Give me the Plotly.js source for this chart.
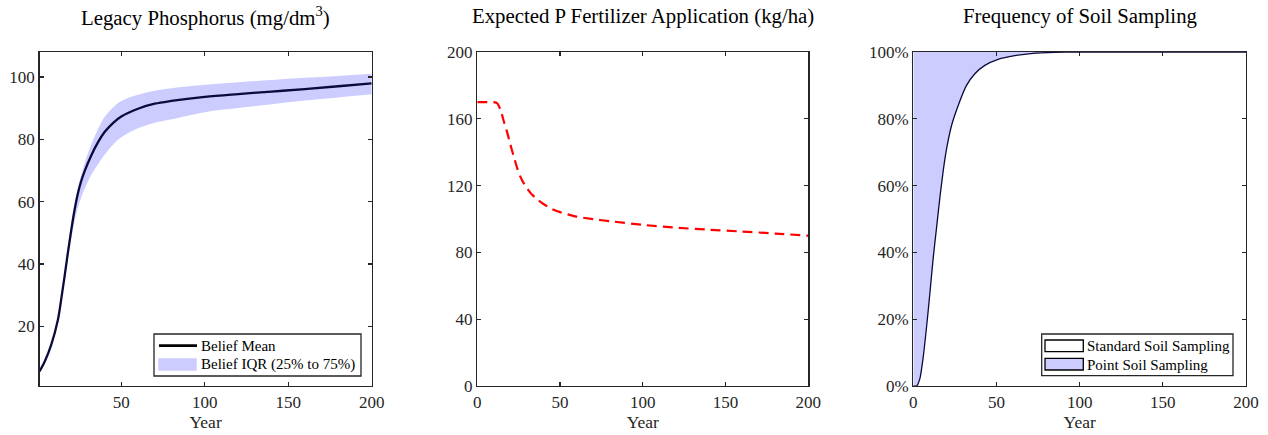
<!DOCTYPE html>
<html>
<head>
<meta charset="utf-8">
<script src="https://cdn.plot.ly/plotly-3.0.1.min.js"></script>
<style>html,body{margin:0;padding:0;background:#fff;}</style>
</head>
<body>
<div id="chart" style="width:1268px;height:435px;"></div>
<script>
// ---------- Data ----------
// Panel 1: Legacy Phosphorus (mg/dm^3)
const yearsP = [1, 4, 8, 12, 14, 16, 18, 20, 22, 24, 26, 28, 32, 36, 40, 45, 50, 60, 70, 80, 100, 120, 140, 160, 180, 200];
const beliefMean = [5.5, 8.5, 14.0, 22.0, 28.6, 35.9, 43.6, 50.8, 57.3, 62.6, 66.6, 69.7, 74.8, 79.0, 82.3, 85.2, 87.3, 89.8, 91.4, 92.3, 93.6, 94.5, 95.3, 96.1, 97.0, 97.9];
const iqrLow    = [5.3, 8.3, 13.7, 21.6, 27.8, 34.6, 41.2, 48.0, 53.6, 58.0, 61.3, 64.0, 68.6, 71.9, 75.0, 78.2, 80.6, 83.5, 85.3, 86.4, 88.7, 90.0, 91.2, 92.4, 93.4, 94.4];
const iqrHigh   = [5.7, 8.7, 14.3, 22.4, 29.4, 37.0, 45.3, 52.6, 59.3, 64.6, 68.6, 72.3, 78.3, 83.2, 87.1, 90.2, 92.3, 94.3, 95.6, 96.4, 97.5, 98.3, 99.0, 99.7, 100.3, 101.0];

// Panel 2: Expected P Fertilizer Application (kg/ha)
const yearsF = [0, 5, 10, 12, 14, 16, 18, 20, 22, 24, 26, 28, 30, 33, 36, 40, 45, 50, 60, 70, 80, 100, 120, 140, 160, 180, 200];
const fertilizer = [170, 170, 170, 169.3, 165.5, 158.5, 152.0, 144.5, 137.5, 130.8, 125.4, 121.5, 118.5, 114.6, 112.0, 109.0, 106.0, 104.1, 101.4, 99.9, 98.7, 96.5, 94.8, 93.6, 92.5, 91.3, 90.0];

// Panel 3: Frequency of Soil Sampling (share of fields)
const yearsS = [0, 2, 4, 6, 8, 10, 12, 14, 16, 18, 20, 23, 27, 32, 37, 43, 51, 61, 72, 85, 95, 200];
const standardShare = [0, 0, 0.023, 0.088, 0.178, 0.279, 0.385, 0.475, 0.565, 0.645, 0.710, 0.780, 0.840, 0.900, 0.935, 0.960, 0.978, 0.989, 0.996, 0.999, 1, 1];
// point sampling is the complementary share of the stack
const pointShare = standardShare.map(v => 1 - v);

const titles = ['Legacy Phosphorus (mg/dm<sup>3</sup>)', 'Expected P Fertilizer Application (kg/ha)', 'Frequency of Soil Sampling'];
const legend1Labels = ['Belief Mean', 'Belief IQR (25% to 75%)'];
const legend3Labels = ['Standard Soil Sampling', 'Point Soil Sampling'];

// ---------- Style ----------
const W = 1268, H = 435;
const INK = '#262626';
const LAV = '#ccccff';
const NAVY = '#0a0a3c';
const FONT = 'Liberation Serif, Times New Roman, serif';
const px = x => x / W;
const py = y => 1 - y / H;

const plotTop = 52, plotBot = 386;
const doms = [[39.5, 371.7], [477.3, 808.3], [913.3, 1246]];

function axis(extra) {
  return Object.assign({
    showline: true, linecolor: INK, linewidth: 1.3, mirror: 'allticks',
    ticks: 'inside', ticklen: 4, tickwidth: 1.3, tickcolor: INK,
    showgrid: false, zeroline: false,
    tickfont: {family: FONT, size: 17, color: INK},
    fixedrange: true
  }, extra);
}

const traces = [
  {x: yearsP, y: iqrLow, type: 'scatter', mode: 'lines', line: {width: 0, shape: 'spline', smoothing: 1},
   xaxis: 'x', yaxis: 'y', showlegend: false, hoverinfo: 'skip', name: 'IQR lower'},
  {x: yearsP, y: iqrHigh, type: 'scatter', mode: 'lines', line: {width: 0, shape: 'spline', smoothing: 1},
   fill: 'tonexty', fillcolor: LAV, xaxis: 'x', yaxis: 'y', showlegend: false, name: legend1Labels[1]},
  {x: yearsP, y: beliefMean, type: 'scatter', mode: 'lines', line: {width: 2.3, color: NAVY, shape: 'spline', smoothing: 1},
   xaxis: 'x', yaxis: 'y', showlegend: false, name: legend1Labels[0]},

  {x: yearsF, y: fertilizer, type: 'scatter', mode: 'lines',
   line: {width: 2.2, color: '#ff0000', dash: '10px,6px', shape: 'spline', smoothing: 0.6},
   xaxis: 'x2', yaxis: 'y2', showlegend: false, name: 'Expected P Fertilizer'},

  {x: yearsS, y: standardShare, type: 'scatter', mode: 'lines', stackgroup: 'soil',
   line: {width: 1.3, color: NAVY, shape: 'spline', smoothing: 0.6}, fillcolor: '#ffffff',
   xaxis: 'x3', yaxis: 'y3', showlegend: false, name: legend3Labels[0]},
  {x: yearsS, y: pointShare, type: 'scatter', mode: 'lines', stackgroup: 'soil',
   line: {width: 0, shape: 'spline', smoothing: 0.6}, fillcolor: LAV,
   xaxis: 'x3', yaxis: 'y3', showlegend: false, name: legend3Labels[1]}
];

const yDom = [py(plotBot), py(plotTop)];
const xTitle = {text: 'Year', font: {family: FONT, size: 17.5, color: INK}, standoff: 5};

const annotations = titles.map((t, i) => ({
  text: t, xref: 'paper', yref: 'paper', x: px((doms[i][0] + doms[i][1]) / 2), y: py(16),
  xanchor: 'center', yanchor: 'middle', showarrow: false,
  font: {family: FONT, size: 20.8, color: '#000'}
}));

function legendText(t, x, y) {
  return {text: t, xref: 'paper', yref: 'paper', x: px(x), y: py(y), xanchor: 'left', yanchor: 'middle',
          showarrow: false, font: {family: FONT, size: 15, color: '#000'}};
}
annotations.push(legendText(legend1Labels[0], 198.5, 345.5));
annotations.push(legendText(legend1Labels[1], 198.5, 364.5));
annotations.push(legendText(legend3Labels[0], 1085, 345.5));
annotations.push(legendText(legend3Labels[1], 1085, 364.5));

function rect(x0, y0, x1, y1, fill, lw, lc) {
  return {type: 'rect', xref: 'paper', yref: 'paper', x0: px(x0), x1: px(x1), y0: py(y1), y1: py(y0),
          fillcolor: fill, line: {width: lw, color: lc || INK}, layer: 'above'};
}
const shapes = [
  rect(154, 334, 361, 376, '#ffffff', 1.3, INK),
  {type: 'line', xref: 'paper', yref: 'paper', x0: px(159), x1: px(197), y0: py(345.7), y1: py(345.7),
   line: {width: 2.8, color: '#000'}, layer: 'above'},
  rect(158.3, 358.3, 196.7, 370.7, LAV, 0),
  rect(1041.7, 334, 1233, 375.7, '#ffffff', 1.3, INK),
  rect(1045, 340, 1083.3, 351.7, '#ffffff', 1.3, '#000'),
  rect(1045, 358.3, 1083.3, 370, LAV, 1.3, '#000')
];

const layout = {
  width: W, height: H,
  margin: {l: 0, r: 0, t: 0, b: 0},
  paper_bgcolor: '#ffffff', plot_bgcolor: '#ffffff',
  font: {family: FONT, size: 17, color: INK},
  showlegend: false,
  xaxis: axis({domain: [px(doms[0][0]), px(doms[0][1])], range: [1, 200], tickvals: [50, 100, 150, 200], title: xTitle, anchor: 'y'}),
  yaxis: axis({domain: yDom, range: [0.8, 108], tickvals: [20, 40, 60, 80, 100], anchor: 'x'}),
  xaxis2: axis({domain: [px(doms[1][0]), px(doms[1][1])], range: [0, 200], tickvals: [0, 50, 100, 150, 200], title: xTitle, anchor: 'y2'}),
  yaxis2: axis({domain: yDom, range: [0, 200], tickvals: [0, 40, 80, 120, 160, 200], anchor: 'x2'}),
  xaxis3: axis({domain: [px(doms[2][0]), px(doms[2][1])], range: [0, 200], tickvals: [0, 50, 100, 150, 200], title: xTitle, anchor: 'y3'}),
  yaxis3: axis({domain: yDom, range: [0, 1], tickvals: [0, 0.2, 0.4, 0.6, 0.8, 1], tickformat: '.0%', anchor: 'x3'}),
  annotations: annotations,
  shapes: shapes
};

Plotly.newPlot('chart', traces, layout, {displayModeBar: false, staticPlot: true});
</script>
</body>
</html>
